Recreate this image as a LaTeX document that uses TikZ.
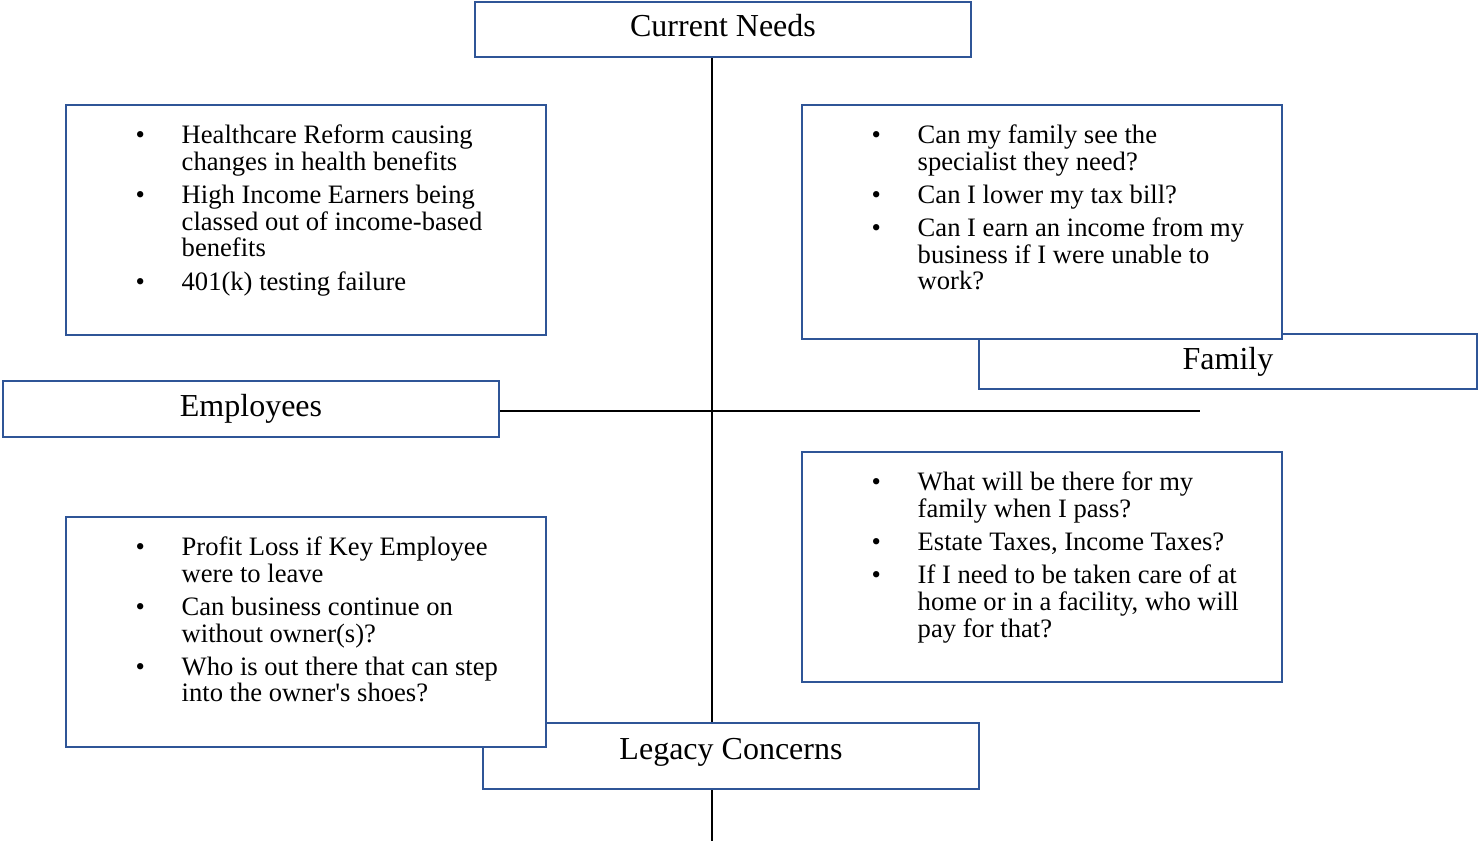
\documentclass[tikz,border=0pt]{standalone}
\usepackage{fontspec}
\setmainfont{Liberation Serif}
\usetikzlibrary{positioning}

\definecolor{boxblue}{RGB}{47,85,151}
% one bullet item of a list box
\newcommand{\bul}{\makebox[23pt][l]{\textbullet}}
\newcommand{\needlist}[1]{{\fontsize{13.3}{13.3}\selectfont
    \begin{tabular}[t]{@{}l@{}l@{}}#1\end{tabular}}}

\begin{document}
\begin{tikzpicture}[x=0.5pt,y=-0.5pt,line width=1pt]
            \tikzstyle{titlebox}=[rectangle,draw=boxblue,line width=1.3pt,fill=white,minimum width=248pt,minimum height=27.5pt,inner sep=0pt,font=\fontsize{16}{19}\selectfont]
            \tikzstyle{listbox}=[rectangle,draw=boxblue,line width=1.3pt,fill=white,minimum width=240pt,minimum height=115pt,inner sep=0pt]
            \tikzstyle{listtext}=[anchor=base west,inner sep=0pt,align=left]
            \useasboundingbox (0,0) rectangle (1478,841);

            % the four headings
            \node [titlebox, text depth=4pt] (cur) at (723,29.5) {Current Needs};
            \node [titlebox, minimum height=28pt] (emp) at (251,409) {Employees};
            \node [titlebox, minimum width=249pt] (fam) at (1228,361.5) {Family};
            \node [titlebox, minimum height=33pt, text depth=7.5pt] (leg) at (731,756) {Legacy Concerns};

            % the axes
            \coordinate (spine) at (712,841);
            \coordinate (hend) at (1200,411);
            \draw (cur.south -| spine) -- (leg.north -| spine);
            \draw (leg.south -| spine) -- (spine);
            \draw (emp.east |- hend) -- (hend);

            % the list boxes, drawn over the headings
            \node [listbox] (tl) at (306,220) {};
            \node [listbox, minimum height=117pt] (tr) at (1042,222) {};
            \node [listbox] (lr) at (1042,567) {};
            \node [listbox] (ll) at (306,632) {};

            \node [listtext] (tltext) at ([shift={(70,40)}]tl.north west) {\needlist{%
                \bul & Healthcare Reform causing\\
                     & changes in health benefits\\[3.25pt]
                \bul & High Income Earners being\\
                     & classed out of income-based\\
                     & benefits\\[3.25pt]
                \bul & 401(k) testing failure}};
            \node [listtext] (trtext) at ([shift={(70,40)}]tr.north west) {\needlist{%
                \bul & Can my family see the\\
                     & specialist they need?\\[3.25pt]
                \bul & Can I lower my tax bill?\\[3.25pt]
                \bul & Can I earn an income from my\\
                     & business if I were unable to\\
                     & work?}};
            \node [listtext] (lrtext) at ([shift={(70,40)}]lr.north west) {\needlist{%
                \bul & What will be there for my\\
                     & family when I pass?\\[3.25pt]
                \bul & Estate Taxes, Income Taxes?\\[3.25pt]
                \bul & If I need to be taken care of at\\
                     & home or in a facility, who will\\
                     & pay for that?}};
            \node [listtext] (lltext) at ([shift={(70,40)}]ll.north west) {\needlist{%
                \bul & Profit Loss if Key Employee\\
                     & were to leave\\[3.25pt]
                \bul & Can business continue on\\
                     & without owner(s)?\\[3.25pt]
                \bul & Who is out there that can step\\
                     & into the owner\textquotesingle s shoes?}};
\end{tikzpicture}
\end{document}
